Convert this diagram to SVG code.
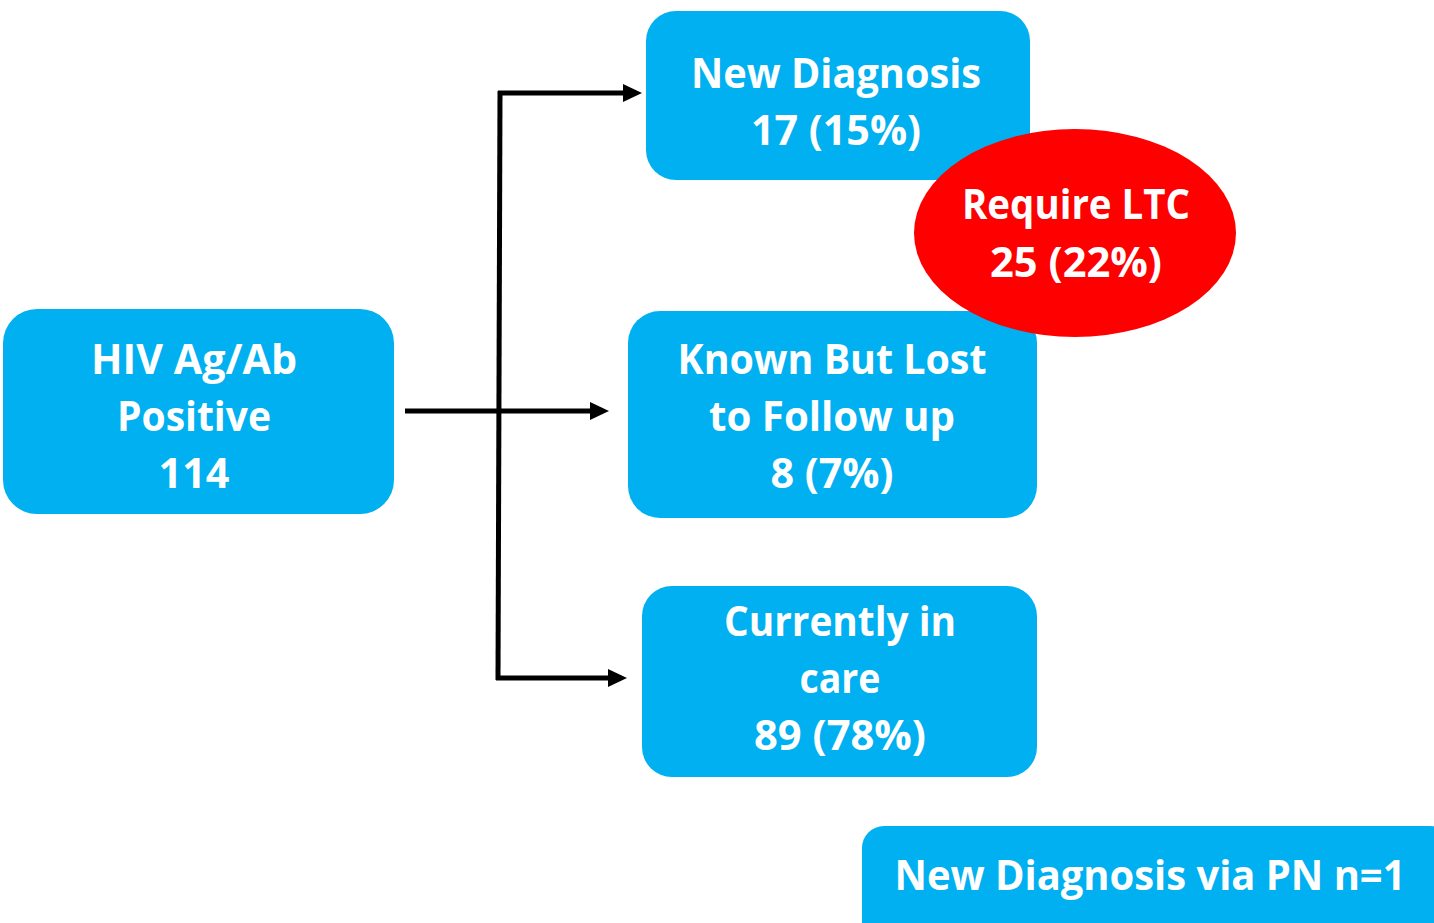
<svg xmlns="http://www.w3.org/2000/svg" width="1434" height="923" viewBox="0 0 1434 923">
<style>
.box{fill:#00B0F0}
.t{font-family:"Open Sans","Noto Sans","Liberation Sans",sans-serif;font-weight:bold;font-size:42px;fill:#fff;text-anchor:middle}
.c{stroke:#000;stroke-width:5;fill:none}
</style>
<defs>
<marker id="ah" markerUnits="userSpaceOnUse" markerWidth="20" markerHeight="20" refX="6" refY="10" orient="auto">
<path d="M0,1 L19,10 L0,19 Z" fill="#000"/>
</marker>
</defs>
<rect width="1434" height="923" fill="#fff"/>
<g id="hiv">
<rect class="box" x="3" y="309" width="391" height="205" rx="34"/>
<text class="t" x="194" y="374" textLength="206" lengthAdjust="spacingAndGlyphs">HIV Ag/Ab</text>
<text class="t" x="194" y="431" textLength="154" lengthAdjust="spacingAndGlyphs">Positive</text>
<text class="t" x="194" y="488" textLength="71" lengthAdjust="spacingAndGlyphs">114</text>
</g>
<g id="newdiag">
<rect class="box" x="646" y="11" width="384" height="169" rx="30"/>
<text class="t" x="836" y="88" textLength="290" lengthAdjust="spacingAndGlyphs">New Diagnosis</text>
<text class="t" x="836" y="145" textLength="170" lengthAdjust="spacingAndGlyphs">17 (15%)</text>
</g>
<g id="known">
<rect class="box" x="628" y="311" width="409" height="207" rx="32"/>
<text class="t" x="832" y="374" textLength="309" lengthAdjust="spacingAndGlyphs">Known But Lost</text>
<text class="t" x="832" y="431" textLength="246" lengthAdjust="spacingAndGlyphs">to Follow up</text>
<text class="t" x="832" y="488" textLength="123" lengthAdjust="spacingAndGlyphs">8 (7%)</text>
</g>
<g id="ltc">
<ellipse cx="1075" cy="233" rx="161" ry="104" fill="#FF0000"/>
<text class="t" x="1076" y="219" textLength="228" lengthAdjust="spacingAndGlyphs">Require LTC</text>
<text class="t" x="1076" y="277" textLength="172" lengthAdjust="spacingAndGlyphs">25 (22%)</text>
</g>
<g id="incare">
<rect class="box" x="642" y="586" width="395" height="191" rx="30"/>
<text class="t" x="840" y="636" textLength="232" lengthAdjust="spacingAndGlyphs">Currently in</text>
<text class="t" x="840" y="693" textLength="81" lengthAdjust="spacingAndGlyphs">care</text>
<text class="t" x="840" y="750" textLength="172" lengthAdjust="spacingAndGlyphs">89 (78%)</text>
</g>
<g id="pn">
<rect class="box" x="862" y="826" width="590" height="120" rx="22"/>
<text class="t" x="1150" y="890" textLength="511" lengthAdjust="spacingAndGlyphs">New Diagnosis via PN n=1</text>
</g>
<g id="connectors">
<line class="c" x1="405" y1="411" x2="596" y2="411" marker-end="url(#ah)"/>
<path class="c" d="M498,680 L500,91"/>
<line class="c" x1="498" y1="93" x2="629" y2="93" marker-end="url(#ah)"/>
<line class="c" x1="496" y1="678" x2="614" y2="678" marker-end="url(#ah)"/>
</g>
</svg>
